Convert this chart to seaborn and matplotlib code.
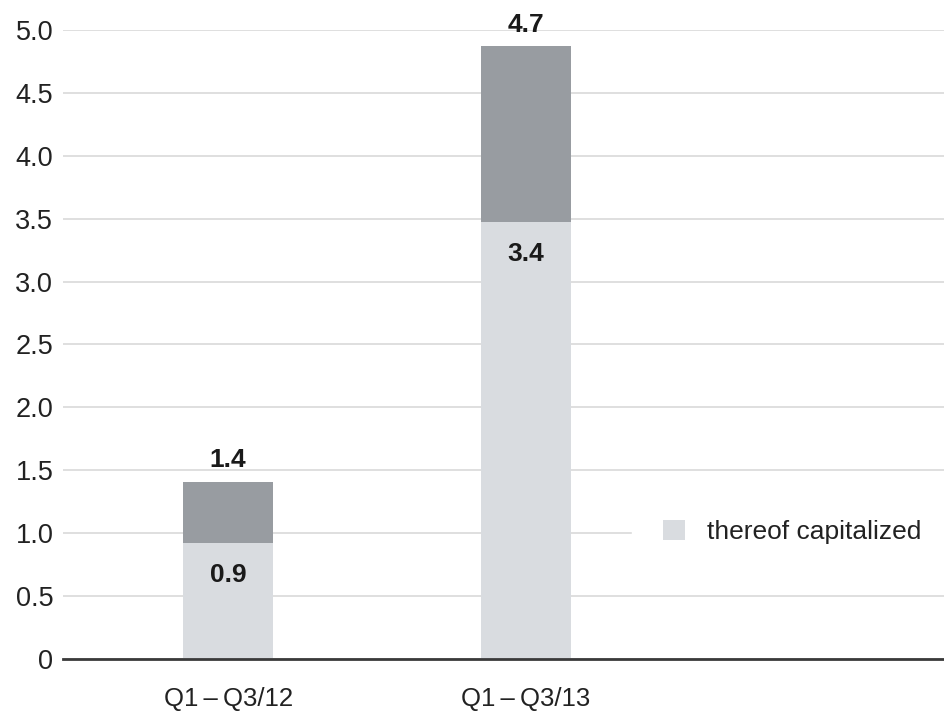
import matplotlib
matplotlib.use("Agg")
import matplotlib.pyplot as plt
import matplotlib.patches as mpatches
import seaborn as sns
import pandas as pd

categories = ["Q1\u2009\u2013\u2009Q3/12", "Q1\u2009\u2013\u2009Q3/13"]
totals = [1.41, 4.87]
capitalized = [0.92, 3.47]
total_labels = ["1.4", "4.7"]
cap_labels = ["0.9", "3.4"]
yticks = [0, 0.5, 1.0, 1.5, 2.0, 2.5, 3.0, 3.5, 4.0, 4.5, 5.0]
ytick_labels = ["0", "0.5", "1.0", "1.5", "2.0", "2.5", "3.0", "3.5", "4.0", "4.5", "5.0"]
legend_label = "thereof capitalized"

sns.set_style("white")
plt.rcParams["font.family"] = ["Liberation Sans", "DejaVu Sans"]

DARK = "#989ca1"
LIGHT = "#d9dce0"

df = pd.DataFrame({"cat": categories, "total": totals, "cap": capitalized})

fig = plt.figure(figsize=(9.45, 7.15), dpi=100)
ax = fig.add_axes([63/945, 56/715, 882/945, 629/715])

sns.barplot(data=df, x="cat", y="total", color=DARK, saturation=1, width=0.3,
            ax=ax, zorder=2, linewidth=0)
sns.barplot(data=df, x="cat", y="cap", color=LIGHT, saturation=1, width=0.3,
            ax=ax, zorder=3, linewidth=0)

ax.set_xlim(-0.554, 2.406)
ax.set_ylim(0, 5.0)
ax.set_yticks(yticks)
ax.set_yticklabels(ytick_labels, fontsize=19.5, color="#222222")
ax.tick_params(axis="x", labelsize=18.5, colors="#222222", length=0, pad=20)
ax.tick_params(axis="y", length=0, pad=7)
ax.set_xlabel("")
ax.set_ylabel("")
ax.yaxis.grid(True, color="#d9d9d9", linewidth=1.2, zorder=0)
ax.set_axisbelow(True)
for s in ["top", "right", "left"]:
    ax.spines[s].set_visible(False)
ax.spines["bottom"].set_color("#3a3a3a")
ax.spines["bottom"].set_linewidth(2)
ax.spines["bottom"].set_zorder(5)

for i, (t, c) in enumerate(zip(totals, capitalized)):
    ax.annotate(total_labels[i], (i, t), xytext=(0, 7), textcoords="offset points",
                ha="center", va="bottom", fontsize=19, fontweight="bold",
                color="#1a1a1a", annotation_clip=False)
    ax.annotate(cap_labels[i], (i, c), xytext=(0, -14), textcoords="offset points",
                ha="center", va="top", fontsize=19, fontweight="bold",
                color="#1a1a1a", annotation_clip=False)

handle = mpatches.Patch(facecolor=LIGHT, edgecolor="none")
leg = ax.legend([handle], [legend_label], loc="center left",
                bbox_to_anchor=(632/945, (715-532)/715), bbox_transform=fig.transFigure,
                borderaxespad=0, borderpad=1.17, handlelength=0.83, handleheight=0.83,
                handletextpad=0.83, frameon=True, fancybox=False, fontsize=19,
                labelcolor="#222222")
leg.get_frame().set_facecolor("white")
leg.get_frame().set_edgecolor("white")
leg.get_frame().set_alpha(1)
leg.set_zorder(6)

fig.savefig("out.png", dpi=100)
